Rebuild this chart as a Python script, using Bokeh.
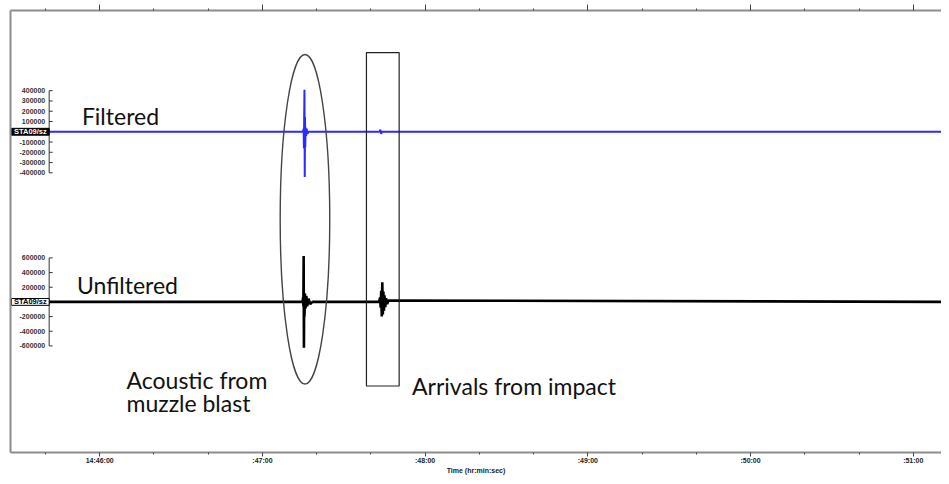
from bokeh.plotting import figure
from bokeh.models import Range1d, LinearAxis, FixedTicker, ColumnDataSource
from bokeh.core.properties import value
from bokeh.embed import file_html
from bokeh.resources import INLINE

# ---------------- data ----------------
# time axis: seconds after 14:46:00
MAJOR_TICKS = [-60, 0, 60, 120, 180, 240, 300, 360]
MAJOR_LABELS = ["14:45:00", "14:46:00", ":47:00", ":48:00", ":49:00", ":50:00", ":51:00", ":52:00"]
MINOR_TICKS = [-40, -20, 20, 40, 80, 100, 140, 160, 200, 220, 260, 280, 320, 340]
AXIS_TITLE = "Time (hr:min:sec)"

# filtered trace (counts)
filt_t = [-40, 75.0, 75.2, 75.3, 75.4, 75.5, 75.6, 75.7, 75.8, 75.9, 76.1, 76.3, 76.6, 77.0,
          103.2, 103.5, 103.8, 104.1, 320]
filt_a = [0, 0, 30000, -160000, 150000, 410000, -440000, 140000, -150000, 40000, -40000, 30000, -20000, 0,
          0, 20000, -20000, 0, 0]

# unfiltered trace (counts)
unf_t = [-40, 74.8, 75.0, 75.1, 75.2, 75.3, 75.4, 75.5, 75.7, 75.9, 76.2, 76.5, 77.0, 77.6, 78.5,
         103.0, 103.4, 103.6, 103.8, 104.0, 104.2, 104.4, 104.6, 104.8, 105.0, 105.3, 105.6, 106.0, 106.5, 320]
unf_a = [0, 0, 60000, -60000, 626000, -626000, 120000, -200000, 110000, -90000, 80000, -60000, 45000, -30000, 0,
         0, 60000, -80000, 150000, -200000, 267000, -170000, 140000, -120000, 90000, -70000, 50000, -30000, 20000, 0]

FILT_TICKS = [400000, 300000, 200000, 100000, -100000, -200000, -300000, -400000]
UNF_TICKS = [600000, 400000, 200000, -200000, -400000, -600000]
CHANNEL = "STA09/sz"

NOTES = ["Filtered", "Unfiltered", "Acoustic from", "muzzle blast", "Arrivals from impact"]

# ---------------- layout helpers (reference pixel -> data) ----------------
PX_PER_S = 164.1 / 60.0
def tx(px):
    return (px - 100.0) / PX_PER_S
def ty(py):
    return 462.0 - py

FILT_OFF, FILT_SCALE = ty(134), 42.0 / 400000
UNF_OFF, UNF_SCALE = ty(308), 45.0 / 600000

p = figure(width=941, height=476, output_backend="svg", toolbar_location=None,
           x_range=Range1d(tx(10), tx(949)), y_range=Range1d(ty(462), ty(10)),
           y_axis_location=None, min_border_left=10, min_border_top=10,
           min_border_right=0, min_border_bottom=22)
p.grid.visible = False
p.outline_line_color = None
p.background_fill_color = "white"

GRAY = "#8c8c8c"
xa = p.xaxis[0]
xa.ticker = FixedTicker(ticks=MAJOR_TICKS, minor_ticks=MINOR_TICKS)
xa.major_label_overrides = {t: l for t, l in zip(MAJOR_TICKS, MAJOR_LABELS)}
xa.axis_line_color = GRAY
xa.axis_line_width = 2
xa.major_tick_line_color = "#444444"
xa.minor_tick_line_color = "#444444"
xa.major_tick_out = 4
xa.major_tick_in = 0
xa.minor_tick_out = 2
xa.minor_tick_in = 0
xa.major_label_text_font = "Liberation Sans"
xa.major_label_text_font_size = "7px"
xa.major_label_text_font_style = "bold"
xa.major_label_text_color = "#222222"
xa.major_label_standoff = 0
xa.axis_label = AXIS_TITLE
xa.axis_label_text_font = "Liberation Sans"
xa.axis_label_text_font_size = "7px"
xa.axis_label_text_font_style = "bold"
xa.axis_label_text_color = "#222222"
xa.axis_label_standoff = 0

top = LinearAxis(ticker=FixedTicker(ticks=MAJOR_TICKS, minor_ticks=MINOR_TICKS),
                 major_label_overrides={t: "" for t in MAJOR_TICKS},
                 major_label_text_font_size="7px", major_label_standoff=0,
                 major_tick_out=6, major_tick_in=0, minor_tick_out=2, minor_tick_in=0,
                 axis_line_color=GRAY, axis_line_width=2,
                 major_tick_line_color="#444444", minor_tick_line_color="#444444")
p.add_layout(top, "above")

left = LinearAxis(ticker=FixedTicker(ticks=[]), major_label_text_font_size="7px",
                  major_label_standoff=0, major_tick_out=0, minor_tick_out=0,
                  axis_line_color=GRAY, axis_line_width=2)
p.add_layout(left, "left")

# ---------------- traces ----------------
p.line(filt_t, [FILT_OFF + a * FILT_SCALE for a in filt_a],
       line_color="#2a2aff", line_width=2)
p.line(unf_t, [UNF_OFF + a * UNF_SCALE for a in unf_a],
       line_color="#000000", line_width=2.6)

# ---------------- mini amplitude axes ----------------
def mini_axis(ticks, off, scale, sel):
    ys = [off + v * scale for v in ticks]
    p.segment(x0=[tx(49)], y0=[min(ys)], x1=[tx(49)], y1=[max(ys)], line_color="#333333", line_width=1)
    p.segment(x0=[tx(49)] * len(ys), y0=ys, x1=[tx(52.5)] * len(ys), y1=ys,
              line_color="#333333", line_width=1)
    src = ColumnDataSource(dict(x=[tx(45)] * len(ys), y=ys, t=[str(v) for v in ticks]))
    p.text(x="x", y="y", text="t", source=src, text_align="right", text_baseline="middle",
           text_font_size="7px", text_font_style="bold", text_color="#333333",
           text_font=value("Liberation Sans"))
    p.quad(left=[tx(11)], right=[tx(49)], top=[off + 3.5], bottom=[off - 3.5],
           fill_color="#000000" if sel else "#ffffff", line_color="#000000", line_width=1)
    p.text(x=[tx(30)], y=[off], text=[CHANNEL], text_align="center", text_baseline="middle",
           text_font_size="7.5px", text_font_style="bold",
           text_color="#ffffff" if sel else "#000000",
           text_font=value("Liberation Sans"))

mini_axis(FILT_TICKS, FILT_OFF, FILT_SCALE, True)
mini_axis(UNF_TICKS, UNF_OFF, UNF_SCALE, False)

# ---------------- annotations ----------------
p.ellipse(x=[tx(307)], y=[ty(223.5)], width=[50 / PX_PER_S], height=[337],
          fill_color=None, line_color="#444444", line_width=1.4)
p.quad(left=[tx(369)], right=[tx(402)], top=[ty(53)], bottom=[ty(394)],
       fill_color=None, line_color="#222222", line_width=1.2)

note_x = [tx(82), tx(77), tx(127), tx(127), tx(415)]
note_y = [ty(118), ty(291), ty(388), ty(411), ty(394)]
p.text(x=note_x, y=note_y, text=NOTES, text_font=value("Lato"), text_font_size="23px",
       text_color="#111111", text_baseline="middle", text_align="left")

open("out.html", "w").write(file_html(p, INLINE))
